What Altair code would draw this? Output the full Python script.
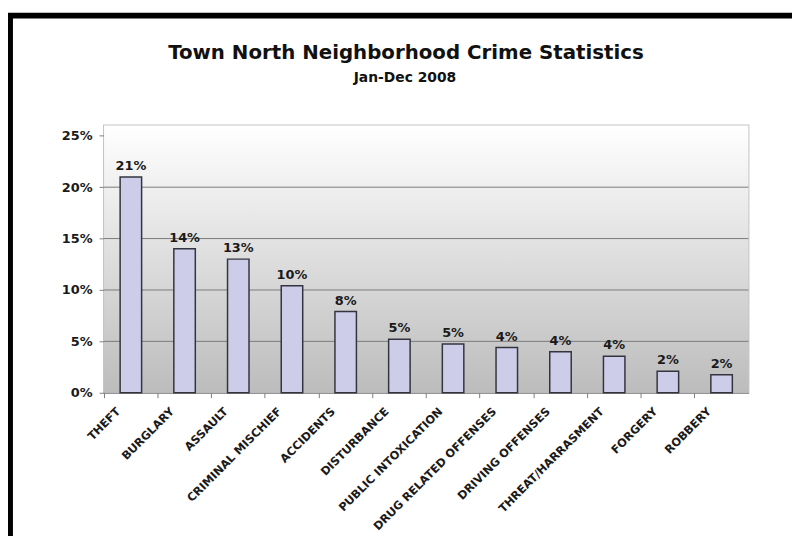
import altair as alt
import pandas as pd

title_text = "Town North Neighborhood Crime Statistics"
subtitle_text = "Jan-Dec 2008"
categories = ["THEFT", "BURGLARY", "ASSAULT", "CRIMINAL MISCHIEF", "ACCIDENTS",
              "DISTURBANCE", "PUBLIC INTOXICATION", "DRUG RELATED OFFENSES",
              "DRIVING OFFENSES", "THREAT/HARRASMENT", "FORGERY", "ROBBERY"]
values = [0.210, 0.140, 0.130, 0.104, 0.079, 0.052, 0.0475, 0.044, 0.040, 0.0355, 0.021, 0.0175]
y_ticks = [0, 0.05, 0.10, 0.15, 0.20, 0.25]
grid_lines = [0.05, 0.10, 0.15, 0.20]

df = pd.DataFrame({"category": categories, "value": values})
grid_df = pd.DataFrame({"value": grid_lines})
one = pd.DataFrame({"title": [title_text], "subtitle": [subtitle_text]})

W, H = 651, 270
FONT = "DejaVu Sans"

x_enc = alt.X("category:N", sort=categories,
              scale=alt.Scale(paddingInner=0, paddingOuter=0),
              axis=alt.Axis(title=None, labelAngle=-45, labelAlign="right",
                            labelBaseline="middle", labelFontSize=11.5,
                            labelFontWeight="bold", labelColor="#1a1a1a",
                            labelFont=FONT, labelPadding=12, labelOffset=-12,
                            bandPosition=0, tickColor="#808080", tickSize=5,
                            domainColor="#808080", grid=False))
y_enc = alt.Y("value:Q", scale=alt.Scale(domain=[0, 0.25]),
              axis=alt.Axis(title=None, values=y_ticks, format=".0%",
                            labelFontSize=13, labelFontWeight="bold",
                            labelColor="#1a1a1a", labelFont=FONT,
                            labelPadding=7, tickColor="#808080", tickSize=5,
                            domainColor="#808080", grid=False))

gradient = alt.Gradient(gradient="linear",
                        stops=[alt.GradientStop(color="#ffffff", offset=0),
                               alt.GradientStop(color="#bcbcbc", offset=1)],
                        x1=0, x2=0, y1=0, y2=1)

background = alt.Chart(one).mark_rect(fill=gradient).encode(
    x=alt.value(0), x2=alt.value(W), y=alt.value(0), y2=alt.value(H))

grid = alt.Chart(grid_df).mark_rule(color="#7a7a7a", strokeWidth=1).encode(
    y=alt.Y("value:Q"), x=alt.value(0), x2=alt.value(W))

bars = alt.Chart(df).mark_bar(width=alt.RelativeBandSize(0.4), fill="#cdcdea",
                              stroke="#34343f", strokeWidth=1.5).encode(x=x_enc, y=y_enc)

labels = alt.Chart(df).mark_text(baseline="bottom", dy=-4, font=FONT, fontSize=13,
                                 fontWeight="bold", color="#1a1a1a").encode(
    x=alt.X("category:N", sort=categories),
    y="value:Q",
    text=alt.Text("value:Q", format=".0%"))

title = alt.Chart(one).mark_text(font=FONT, fontSize=20, fontWeight="bold",
                                 color="#111111", align="center",
                                 baseline="alphabetic").encode(
    x=alt.value(305), y=alt.value(-67), text="title:N")

subtitle = alt.Chart(one).mark_text(font=FONT, fontSize=14, fontWeight="bold",
                                    color="#111111", align="center",
                                    baseline="alphabetic").encode(
    x=alt.value(304), y=alt.value(-44), text="subtitle:N")

frame = alt.Chart(one).mark_rect(
    fill=None, stroke="black", strokeWidth=6).encode(
    x=alt.value(-95), x2=alt.value(1200), y=alt.value(-111), y2=alt.value(1000))

chart = alt.layer(background, grid, bars, labels, title, subtitle, frame).properties(
    width=W, height=H,
    autosize=alt.AutoSizeParams(type="none"),
    padding={"left": 97, "top": 116, "right": 44, "bottom": 142},
    background="white",
).configure_view(stroke="#c4c4c4", strokeWidth=2)

chart.save("out.html", embed_options={"renderer": "svg", "actions": False})
